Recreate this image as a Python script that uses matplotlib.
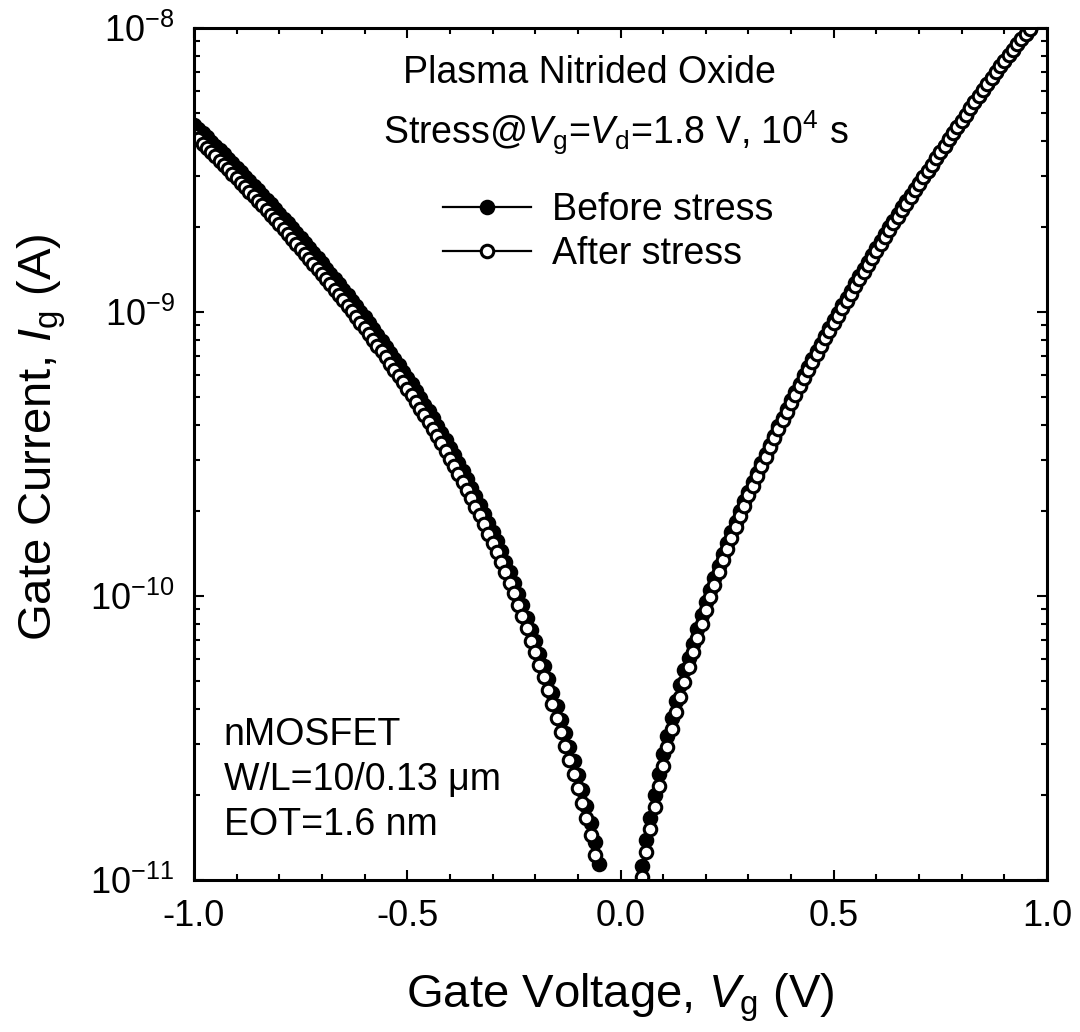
import numpy as np
import matplotlib
matplotlib.use("Agg")
import matplotlib.pyplot as plt
from matplotlib.lines import Line2D
from matplotlib.ticker import LogLocator, MultipleLocator, FixedLocator, FixedFormatter, NullFormatter

plt.rcParams['font.family'] = ['Liberation Sans', 'DejaVu Sans']
plt.rcParams['mathtext.fontset'] = 'custom'
plt.rcParams['mathtext.rm'] = 'Liberation Sans'
plt.rcParams['mathtext.it'] = 'Liberation Sans:italic'
plt.rcParams['mathtext.default'] = 'regular'
plt.rcParams['axes.unicode_minus'] = False

# Gate voltage sweeps (V), 10 mV steps; only points inside 1e-11..1e-8 A are kept
vg_neg_before = np.round(np.arange(-1.00, -0.045, 0.01), 2)   # -1.00 .. -0.05
vg_neg_after = np.round(np.arange(-1.00, -0.055, 0.01), 2)    # -1.00 .. -0.06
vg_pos = np.round(np.arange(0.05, 0.965, 0.01), 2)            # 0.05 .. 0.96

# log10 of gate current (A), negative gate bias, before stress
log_ig_neg_before = [
    -8.340, -8.355, -8.370, -8.385, -8.400, -8.415, -8.430, -8.445, -8.461, -8.477,
    -8.492, -8.508, -8.524, -8.540, -8.555, -8.572, -8.588, -8.604, -8.621, -8.637,
    -8.654, -8.671, -8.688, -8.705, -8.722, -8.739, -8.757, -8.774, -8.792, -8.810,
    -8.828, -8.847, -8.865, -8.884, -8.902, -8.921, -8.940, -8.960, -8.979, -8.999,
    -9.019, -9.039, -9.060, -9.080, -9.101, -9.122, -9.144, -9.165, -9.187, -9.210,
    -9.232, -9.255, -9.278, -9.302, -9.326, -9.350, -9.375, -9.400, -9.425, -9.451,
    -9.478, -9.505, -9.532, -9.560, -9.589, -9.618, -9.648, -9.678, -9.710, -9.742,
    -9.775, -9.808, -9.843, -9.879, -9.915, -9.953, -9.993, -10.033, -10.076, -10.119,
    -10.160, -10.205, -10.247, -10.292, -10.340, -10.388, -10.436, -10.484, -10.532, -10.581,
    -10.631, -10.683, -10.738, -10.798, -10.866, -10.945,
]

# log10 of gate current (A), negative gate bias, after stress
log_ig_neg_after = [
    -8.377, -8.392, -8.407, -8.422, -8.437, -8.452, -8.467, -8.482, -8.498, -8.514,
    -8.529, -8.545, -8.561, -8.577, -8.592, -8.609, -8.625, -8.641, -8.658, -8.674,
    -8.691, -8.708, -8.725, -8.742, -8.759, -8.777, -8.795, -8.812, -8.830, -8.848,
    -8.866, -8.885, -8.903, -8.922, -8.940, -8.959, -8.978, -8.998, -9.017, -9.037,
    -9.057, -9.077, -9.098, -9.118, -9.139, -9.160, -9.182, -9.203, -9.225, -9.248,
    -9.270, -9.293, -9.316, -9.340, -9.364, -9.388, -9.413, -9.438, -9.463, -9.489,
    -9.516, -9.543, -9.570, -9.598, -9.627, -9.656, -9.686, -9.716, -9.748, -9.780,
    -9.813, -9.846, -9.881, -9.917, -9.953, -9.991, -10.031, -10.071, -10.114, -10.157,
    -10.198, -10.243, -10.286, -10.331, -10.380, -10.429, -10.478, -10.527, -10.576, -10.626,
    -10.676, -10.728, -10.783, -10.843, -10.911,
]

# log10 of gate current (A), positive gate bias, before stress
log_ig_pos_before = [
    -10.950, -10.860, -10.780, -10.702, -10.628, -10.558, -10.492, -10.430, -10.370, -10.315,
    -10.262, -10.219, -10.168, -10.117, -10.067, -10.022, -9.978, -9.935, -9.893, -9.852,
    -9.812, -9.773, -9.738, -9.702, -9.667, -9.633, -9.600, -9.567, -9.533, -9.499,
    -9.467, -9.435, -9.403, -9.372, -9.341, -9.311, -9.282, -9.252, -9.223, -9.194,
    -9.166, -9.138, -9.111, -9.083, -9.056, -9.029, -9.003, -8.977, -8.950, -8.925,
    -8.899, -8.874, -8.849, -8.824, -8.799, -8.774, -8.750, -8.726, -8.702, -8.678,
    -8.655, -8.631, -8.609, -8.588, -8.567, -8.546, -8.525, -8.503, -8.481, -8.458,
    -8.436, -8.414, -8.392, -8.370, -8.348, -8.326, -8.305, -8.283, -8.262, -8.240,
    -8.219, -8.198, -8.177, -8.156, -8.135, -8.115, -8.095, -8.076, -8.057, -8.039,
    -8.021, -8.004,
]

# log10 of gate current (A), positive gate bias, after stress
log_ig_pos_after = [
    -10.990, -10.900, -10.820, -10.742, -10.668, -10.598, -10.532, -10.470, -10.410, -10.355,
    -10.302, -10.249, -10.198, -10.147, -10.097, -10.050, -10.004, -9.960, -9.917, -9.875,
    -9.834, -9.795, -9.756, -9.719, -9.682, -9.646, -9.611, -9.577, -9.543, -9.509,
    -9.477, -9.445, -9.413, -9.382, -9.351, -9.321, -9.292, -9.262, -9.233, -9.204,
    -9.176, -9.148, -9.121, -9.093, -9.066, -9.039, -9.013, -8.987, -8.960, -8.935,
    -8.909, -8.884, -8.859, -8.834, -8.809, -8.784, -8.760, -8.736, -8.712, -8.688,
    -8.665, -8.641, -8.618, -8.595, -8.572, -8.549, -8.526, -8.503, -8.481, -8.458,
    -8.436, -8.414, -8.392, -8.370, -8.348, -8.326, -8.305, -8.283, -8.262, -8.240,
    -8.219, -8.198, -8.177, -8.156, -8.135, -8.115, -8.095, -8.076, -8.057, -8.039,
    -8.021, -8.004,
]

series_labels = ["Before stress", "After stress"]
x_ticks = [-1.0, -0.5, 0.0, 0.5, 1.0]
x_tick_labels = ["-1.0", "-0.5", "0.0", "0.5", "1.0"]

fig = plt.figure(figsize=(10.8, 10.32), dpi=100)
ax = fig.add_axes([194 / 1080, 1 - 880 / 1032, 853 / 1080, 852 / 1032])

ms, mew, lw = 9.0, 2.2, 1.6
filled_style = dict(color='black', lw=lw, marker='o', ms=ms, mfc='black', mec='black', mew=mew)
open_style = dict(color='black', lw=lw, marker='o', ms=ms, mfc='white', mec='black', mew=mew)

ax.plot(vg_neg_before, 10.0 ** np.array(log_ig_neg_before), **filled_style)
ax.plot(vg_pos, 10.0 ** np.array(log_ig_pos_before), **filled_style)
ax.plot(vg_neg_after, 10.0 ** np.array(log_ig_neg_after), **open_style)
ax.plot(vg_pos, 10.0 ** np.array(log_ig_pos_after), **open_style)

ax.set_yscale('log')
ax.set_xlim(-1.0, 1.0)
ax.set_ylim(1e-11, 1e-8)

ax.xaxis.set_major_locator(FixedLocator(x_ticks))
ax.xaxis.set_major_formatter(FixedFormatter(x_tick_labels))
ax.xaxis.set_minor_locator(MultipleLocator(0.1))
ax.yaxis.set_major_locator(LogLocator(base=10, numticks=10))
ax.yaxis.set_minor_locator(LogLocator(base=10, subs=np.arange(2, 10), numticks=20))
ax.yaxis.set_minor_formatter(NullFormatter())

for s in ax.spines.values():
    s.set_linewidth(2.2)
ax.tick_params(which='both', direction='in', top=True, right=True, width=1.5)
ax.tick_params(which='major', length=7, pad=14, labelsize=26)
ax.tick_params(which='minor', length=4)

ax.set_xlabel(r"Gate Voltage, $\mathit{V}_\mathrm{g}$ (V)", fontsize=34)
ax.xaxis.set_label_coords(0.5, -(972 - 880) / 852)
ax.set_ylabel(r"Gate Current, $\mathit{I}_\mathrm{g}$ (A)", fontsize=34)
ax.yaxis.label.set_va('center')
ax.yaxis.set_label_coords(-(194 - 42) / 853, 0.52)

ax.text(0.245, 0.935, "Plasma Nitrided Oxide", transform=ax.transAxes,
        fontsize=27, ha='left', va='baseline')
ax.text(0.2216, 0.8638, r"Stress@$\mathit{V}_\mathrm{g}$=$\mathit{V}_\mathrm{d}$=1.8 V, 10$^{4}$ s",
        transform=ax.transAxes, fontsize=27, ha='left', va='baseline')
ax.text(0.035, 0.1585, "nMOSFET", transform=ax.transAxes, fontsize=27, ha='left', va='baseline')
ax.text(0.035, 0.1056, "W/L=10/0.13 \u03bcm", transform=ax.transAxes, fontsize=27, ha='left', va='baseline')
ax.text(0.035, 0.0528, "EOT=1.6 nm", transform=ax.transAxes, fontsize=27, ha='left', va='baseline')

handles = [Line2D([], [], **filled_style), Line2D([], [], **open_style)]
ax.legend(handles, series_labels, loc='upper left', bbox_to_anchor=(0.292, 0.807),
          frameon=False, fontsize=27, handlelength=2.35, handletextpad=0.55,
          labelspacing=0.2, borderpad=0, borderaxespad=0)

fig.savefig("out.png", dpi=100)
